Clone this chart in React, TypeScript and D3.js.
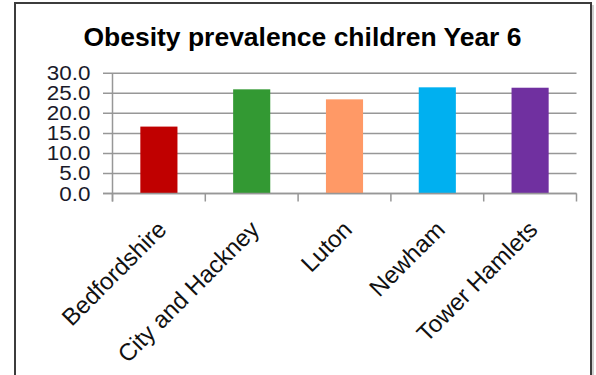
import React from "react";
import * as d3 from "d3";

const categories = ["Bedfordshire", "City and Hackney", "Luton", "Newham", "Tower Hamlets"];
const values = [16.7, 26.0, 23.5, 26.5, 26.4];
const barColors = ["#C00000", "#339933", "#FF9966", "#00B0F0", "#7030A0"];
const yTicks = [0, 5, 10, 15, 20, 25, 30];
const title = "Obesity prevalence children Year 6";

const W = 596;
const H = 375;
const plot = { left: 112.5, right: 576.5, top: 73.3, bottom: 193.5 };
const font = "'Liberation Sans', Arial, sans-serif";
const gridColor = "#979797";

export default function App() {
  const x = d3
    .scaleBand<string>()
    .domain(categories)
    .range([plot.left, plot.right])
    .paddingInner(0.6)
    .paddingOuter(0.3);
  const y = d3.scaleLinear().domain([0, 30]).range([plot.bottom, plot.top]);
  const step = x.step();
  const boundaries = d3.range(categories.length + 1).map((i) => plot.left + i * step);

  return (
    <svg
      width={W}
      height={H}
      viewBox={`0 0 ${W} ${H}`}
      style={{ position: "absolute", left: 0, top: 0, background: "#fff" }}
    >
      <rect x={0} y={0} width={W} height={H} fill="#fff" />
      {/* chart frame */}
      <line x1={593} y1={5} x2={593} y2={H} stroke="#cfcfcf" strokeWidth={2} />
      <rect x={15} y={3} width={576} height={420} fill="none" stroke="#3c3c3c" strokeWidth={2} />

      <text
        x={302.5}
        y={46}
        textAnchor="middle"
        fontFamily={font}
        fontWeight="bold"
        fontSize={25}
        textLength={438}
        lengthAdjust="spacingAndGlyphs"
        fill="#000"
      >
        {title}
      </text>

      {/* gridlines and value ticks */}
      {yTicks.map((t) => (
        <g key={t}>
          <line x1={103} x2={plot.right} y1={y(t)} y2={y(t)} stroke={gridColor} strokeWidth={1.5} />
          <text
            transform={`translate(90.5,${y(t) + 7}) scale(1.07,1)`}
            textAnchor="end"
            fontFamily={font}
            fontSize={21}
            fill="#1a1a2a"
          >
            {t.toFixed(1)}
          </text>
        </g>
      ))}

      {/* bars */}
      {categories.map((c, i) => (
        <rect
          key={c}
          x={x(c)}
          y={y(values[i])}
          width={x.bandwidth()}
          height={y(0) - y(values[i])}
          fill={barColors[i]}
        />
      ))}

      {/* axes */}
      <line x1={plot.left} x2={plot.left} y1={plot.top} y2={plot.bottom + 8} stroke={gridColor} strokeWidth={1.5} />
      <line x1={103} x2={plot.right} y1={plot.bottom} y2={plot.bottom} stroke={gridColor} strokeWidth={1.5} />
      {boundaries.map((bx, i) => (
        <line key={i} x1={bx} x2={bx} y1={plot.bottom} y2={plot.bottom + 8} stroke={gridColor} strokeWidth={1.5} />
      ))}

      {/* category labels */}
      {categories.map((c) => {
        const cx = (x(c) as number) + x.bandwidth() / 2 + 9;
        const cy = 231;
        return (
          <text
            key={c}
            transform={`translate(${cx},${cy}) rotate(-45)`}
            textAnchor="end"
            fontFamily={font}
            fontSize={24}
            fill="#111"
          >
            {c}
          </text>
        );
      })}
    </svg>
  );
}
